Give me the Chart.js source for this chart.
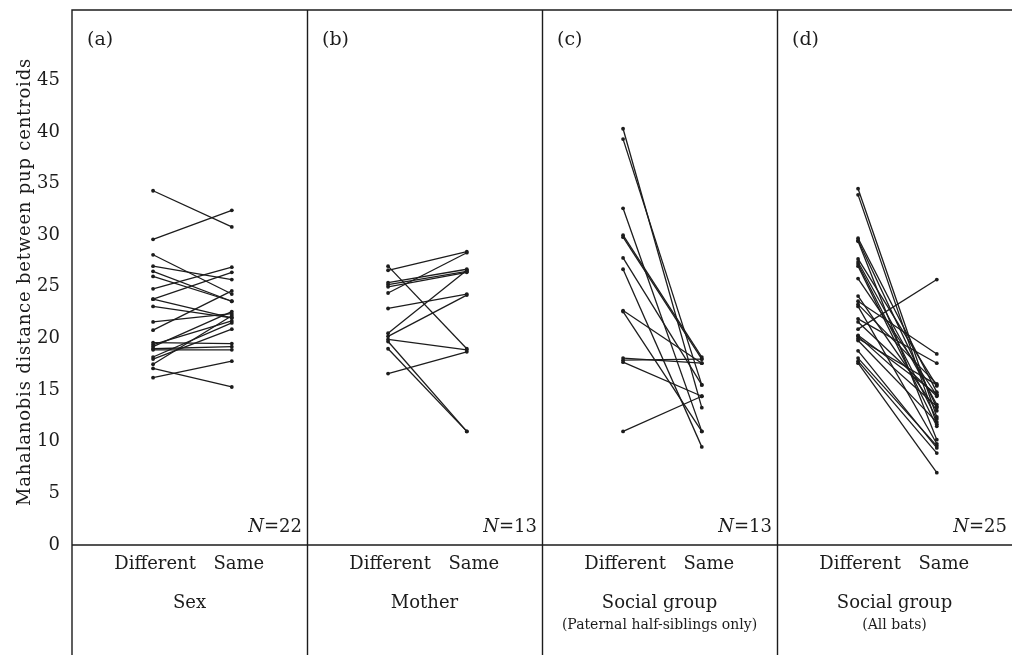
<!DOCTYPE html>
<html>
<head>
<meta charset="utf-8">
<script src="https://cdn.jsdelivr.net/npm/chart.js@4/dist/chart.umd.min.js"></script>
<style>
  html, body { margin: 0; padding: 0; background: #fff; }
</style>
</head>
<body>
<canvas id="pupChart" width="1025" height="655"></canvas>
<script>
const panelLetters = ["(a)", "(b)", "(c)", "(d)"];
const panelTitles = ["Sex", "Mother", "Social group", "Social group"];
const panelSubtitles = ["", "", "(Paternal half-siblings only)", "(All bats)"];
const panelN = [22, 13, 13, 25];
const pairLabels = ["Different", "Same"];
const yTitle = "Mahalanobis distance between pup centroids";
const yTicks = [0, 5, 10, 15, 20, 25, 30, 35, 40, 45];

// (a) sex
const sexDifferent = [34.3, 29.6, 28.1, 27.0, 26.5, 26.0, 24.8, 23.8, 23.8, 23.1, 21.6, 20.8, 19.6, 19.4, 19.2, 19.0, 18.9, 18.2, 18.0, 17.5, 17.1, 16.2];
const sexSame      = [30.8, 32.4, 24.3, 25.7, 23.6, 23.6, 26.9, 26.4, 22.0, 22.0, 22.4, 24.6, 19.5, 21.7, 22.6, 19.2, 18.9, 21.5, 20.9, 22.2, 15.3, 17.8];

// (b) mother
const motherDifferent = [27.0, 26.6, 25.4, 25.2, 25.0, 24.4, 22.9, 20.5, 20.2, 19.9, 19.7, 19.0, 16.6];
const motherSame      = [19.0, 28.4, 26.7, 26.5, 26.4, 28.3, 24.3, 26.6, 24.2, 18.9, 11.0, 11.0, 18.7];

// (c) social group, paternal half-siblings
const halfSibDifferent = [40.3, 39.3, 32.6, 30.0, 29.8, 27.8, 26.7, 22.7, 22.6, 18.1, 17.9, 17.7, 11.0];
const halfSibSame      = [13.3, 15.5, 11.0, 18.2, 18.0, 15.5, 9.5, 17.6, 11.0, 17.6, 18.0, 14.4, 14.4];

// (d) social group, all bats
const allBatsDifferent = [34.5, 33.9, 29.7, 29.5, 29.4, 27.7, 27.4, 27.2, 27.0, 25.8, 24.1, 23.6, 23.3, 23.1, 21.9, 21.6, 20.9, 20.3, 20.2, 20.0, 19.8, 18.8, 18.1, 17.8, 17.6];
const allBatsSame      = [12.4, 11.7, 14.8, 13.3, 10.2, 15.4, 13.6, 12.2, 11.5, 14.5, 13.0, 18.5, 15.6, 9.8, 17.6, 14.4, 25.7, 14.6, 13.4, 15.5, 11.9, 9.4, 9.6, 8.9, 7.0];

const panels = [
  [sexDifferent, sexSame],
  [motherDifferent, motherSame],
  [halfSibDifferent, halfSibSame],
  [allBatsDifferent, allBatsSame],
];

// where "Different" and "Same" sit inside each panel (panel width = 1)
const X_DIFF = 0.345;
const X_SAME = 0.68;
const INK = "#1c1c1c";
const SERIF = "'DejaVu Serif', serif";

const datasets = [];
panels.forEach(([diff, same], p) => {
  diff.forEach((v, i) => {
    datasets.push({
      data: [{ x: p + X_DIFF, y: v }, { x: p + X_SAME, y: same[i] }],
      borderColor: INK,
      borderWidth: 1.3,
      pointRadius: 1.9,
      pointBackgroundColor: INK,
      pointBorderWidth: 0,
      showLine: true,
    });
  });
});

const framePlugin = {
  id: "frame",
  afterDraw(chart) {
    const { ctx, chartArea } = chart;
    const xs = chart.scales.x;
    const bottom = chart.height;
    ctx.save();
    ctx.strokeStyle = INK;
    ctx.lineWidth = 1.4;
    ctx.beginPath();
    // left border + top border
    ctx.moveTo(chartArea.left, bottom);
    ctx.lineTo(chartArea.left, chartArea.top);
    ctx.lineTo(chartArea.right, chartArea.top);
    // x axis line
    ctx.moveTo(chartArea.left, chartArea.bottom);
    ctx.lineTo(chartArea.right, chartArea.bottom);
    // panel separators
    for (let p = 1; p < 4; p++) {
      const x = Math.round(xs.getPixelForValue(p)) + 0.5;
      ctx.moveTo(x, chartArea.top);
      ctx.lineTo(x, bottom);
    }
    ctx.stroke();

    ctx.fillStyle = INK;

    // y axis title
    ctx.save();
    ctx.translate(25, 282);
    ctx.rotate(-Math.PI / 2);
    ctx.font = "18px " + SERIF;
    ctx.letterSpacing = "0.8px";
    ctx.textAlign = "center";
    ctx.textBaseline = "middle";
    ctx.fillText(yTitle, 0, 0);
    ctx.restore();

    for (let p = 0; p < 4; p++) {
      const x0 = xs.getPixelForValue(p);
      const x1 = xs.getPixelForValue(p + 1);
      const xc = (x0 + x1) / 2;

      ctx.font = "19px " + SERIF;
      ctx.textAlign = "left";
      ctx.textBaseline = "middle";
      ctx.fillText(panelLetters[p], x0 + 15, chartArea.top + 30);

      // N=..
      const rest = "=" + panelN[p];
      ctx.font = "18px " + SERIF;
      const wRest = ctx.measureText(rest).width;
      ctx.font = "italic 18px " + SERIF;
      const wN = ctx.measureText("N").width;
      const startX = x1 - 5 - wRest - wN;
      ctx.fillText("N", startX, chartArea.bottom - 18);
      ctx.font = "18px " + SERIF;
      ctx.fillText(rest, startX + wN, chartArea.bottom - 18);

      // category labels
      ctx.textAlign = "center";
      ctx.font = "18px " + SERIF;
      ctx.fillText(pairLabels[0], xs.getPixelForValue(p + X_DIFF) + 2, chartArea.bottom + 19);
      ctx.fillText(pairLabels[1], xs.getPixelForValue(p + X_SAME) + 7, chartArea.bottom + 19);
      ctx.fillText(panelTitles[p], xc, chartArea.bottom + 58);
      if (panelSubtitles[p]) {
        ctx.font = "14px " + SERIF;
        ctx.fillText(panelSubtitles[p], xc, chartArea.bottom + 80);
      }
    }
    ctx.restore();
  },
};

new Chart(document.getElementById("pupChart"), {
  type: "scatter",
  data: { datasets },
  options: {
    responsive: false,
    animation: false,
    devicePixelRatio: 1,
    layout: { padding: { top: 10, right: 13, bottom: 110, left: 0 } },
    scales: {
      x: {
        type: "linear",
        min: 0,
        max: 4,
        display: false,
      },
      y: {
        min: 0,
        max: 51.8,
        afterBuildTicks: (scale) => {
          scale.ticks = yTicks.map((v) => ({ value: v }));
        },
        afterFit: (scale) => {
          scale.width = 72;
          scale.paddingTop = 0;
          scale.paddingBottom = 0;
        },
        grid: { display: false, drawTicks: false },
        border: { display: false },
        ticks: {
          color: INK,
          padding: 12,
          font: { family: SERIF, size: 18 },
        },
      },
    },
    plugins: {
      legend: { display: false },
      tooltip: { enabled: false },
    },
  },
  plugins: [framePlugin],
});
</script>
</body>
</html>
